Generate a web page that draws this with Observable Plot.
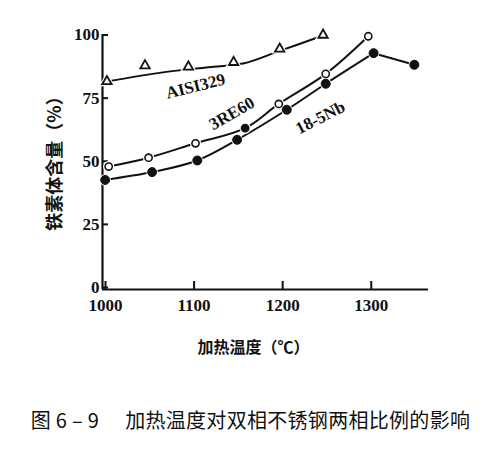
<!DOCTYPE html>
<html><head><meta charset="utf-8">
<script src="https://cdn.jsdelivr.net/npm/d3@7"></script>
<script src="https://cdn.jsdelivr.net/npm/@observablehq/plot@0.6"></script>
<style>
body{margin:0;background:#fff;}
#chart{position:absolute;left:0;top:0;}
#cap{position:absolute;left:0;top:405px;width:501px;text-align:center;font:20px "Noto Sans CJK SC";color:#111;white-space:nowrap;letter-spacing:0.3px;}
#cap .num{margin-right:26px;}
</style></head><body>
<div id="chart"></div>
<div id="cap"><span class="num">图 6 – 9</span><span>加热温度对双相不锈钢两相比例的影响</span></div>
<script>
// AISI329 (open triangles) and its fitted curve
const aisiT = [1005, 1048, 1097, 1148, 1200, 1249];
const aisiV = [82.4, 88.7, 88.2, 90.0, 95.3, 100.8];
const aisiCurveT = [1005, 1070, 1120, 1160, 1200, 1249];
const aisiCurveV = [82.4, 86.1, 88.0, 89.6, 94.5, 100.6];
// 3RE60 (open circles; one point drawn filled)
const re60T = [1007, 1052, 1105, 1161, 1199, 1252, 1300];
const re60V = [48.7, 52.2, 57.9, 63.9, 73.5, 85.4, 100.3];
// 18-5Nb (filled circles)
const nbT = [1003, 1056, 1107, 1152, 1208, 1252, 1306, 1352];
const nbV = [43.4, 46.5, 51.1, 59.3, 71.2, 81.5, 93.6, 89.0];
// axes
const xTicks = [1000, 1100, 1200, 1300];
const yTicks = [0, 25, 50, 75, 100];
const xLabel = "加热温度（℃）";
const yLabel = "铁素体含量（%）";
// series labels
const seriesNames = ["AISI329", "3RE60", "18-5Nb"];
const nameT = [1105, 1146, 1246];
const nameV = [80.5, 69.7, 68.1];
const nameAngle = [-14, -30, -27];

const zip = (t, v) => t.map((d, i) => ({t: d, v: v[i], i}));
const aisi = zip(aisiT, aisiV);
const aisiCurve = zip(aisiCurveT, aisiCurveV);
const re60 = zip(re60T, re60V);
const nb = zip(nbT, nbV);
const names = seriesNames.map((s, i) => ({s, t: nameT[i], v: nameV[i], a: nameAngle[i]}));
const filledRe60 = 3;

const serif = "'Liberation Serif', 'DejaVu Serif', serif";
const cjk = "'Noto Sans CJK SC', sans-serif";

const plot = Plot.plot({
  width: 501, height: 370,
  marginLeft: 102, marginRight: 73, marginTop: 34, marginBottom: 81,
  x: {domain: [1000, 1368]},
  y: {domain: [0, 101]},
  style: {background: "white", color: "#111", fontFamily: serif, fontSize: "17px", fontWeight: "bold"},
  marks: [
    Plot.axisX({ticks: xTicks, tickSize: -8, tickPadding: 17, dx: 3, tickFormat: d => String(d), label: null, strokeWidth: 2}),
    Plot.axisY({ticks: yTicks, tickSize: -6, tickPadding: 9, dy: -2, tickFormat: d => String(d), label: null, strokeWidth: 2}),
    Plot.ruleY([0], {strokeWidth: 2.2}),
    Plot.ruleX([1000], {strokeWidth: 2.2}),
    // curves
    Plot.line(aisiCurve, {x: "t", y: "v", curve: "catmull-rom", strokeWidth: 2, stroke: "#111"}),
    Plot.line(re60, {x: "t", y: "v", curve: "catmull-rom", strokeWidth: 2, stroke: "#111"}),
    Plot.line(nb.slice(0, 7), {x: "t", y: "v", curve: "catmull-rom", strokeWidth: 2, stroke: "#111"}),
    Plot.line(nb.slice(6), {x: "t", y: "v", strokeWidth: 2, stroke: "#111"}),
    // halos (gaps in the lines around markers)
    Plot.dot(aisi, {x: "t", y: "v", symbol: "triangle", r: 3.5, stroke: "white", strokeWidth: 4, fill: "white"}),
    Plot.dot(re60, {x: "t", y: "v", r: 3.6, stroke: "white", strokeWidth: 4, fill: "white"}),
    Plot.dot(nb, {x: "t", y: "v", r: 4.3, stroke: "white", strokeWidth: 3, fill: "white"}),
    // markers
    Plot.dot(aisi, {x: "t", y: "v", symbol: "triangle", r: 3.5, stroke: "#111", strokeWidth: 1.8, fill: "white"}),
    Plot.dot(re60, {x: "t", y: "v", r: 3.6, stroke: "#111", strokeWidth: 1.6, fill: d => d.i === filledRe60 ? "#111" : "white"}),
    Plot.dot(nb, {x: "t", y: "v", r: 4.5, fill: "#111", stroke: "#111", strokeWidth: 1}),
    // series labels
    Plot.text(names, {x: "t", y: "v", text: "s", rotate: "a", fontSize: 17, fontWeight: "bold", fontFamily: serif, fill: "#111"}),
    // axis titles
    Plot.text([xLabel], {frameAnchor: "bottom", text: d => d, textAnchor: "middle", dx: -12, dy: 63, fontFamily: cjk, fontSize: 16, fontWeight: "bold", fill: "#111"}),
    Plot.text([yLabel], {frameAnchor: "left", text: d => d, textAnchor: "middle", rotate: -90, dx: -47, dy: -3, fontFamily: cjk, fontSize: 18, fontWeight: "bold", fill: "#111"})
  ]
});
document.getElementById("chart").appendChild(plot);
</script>
</body></html>
